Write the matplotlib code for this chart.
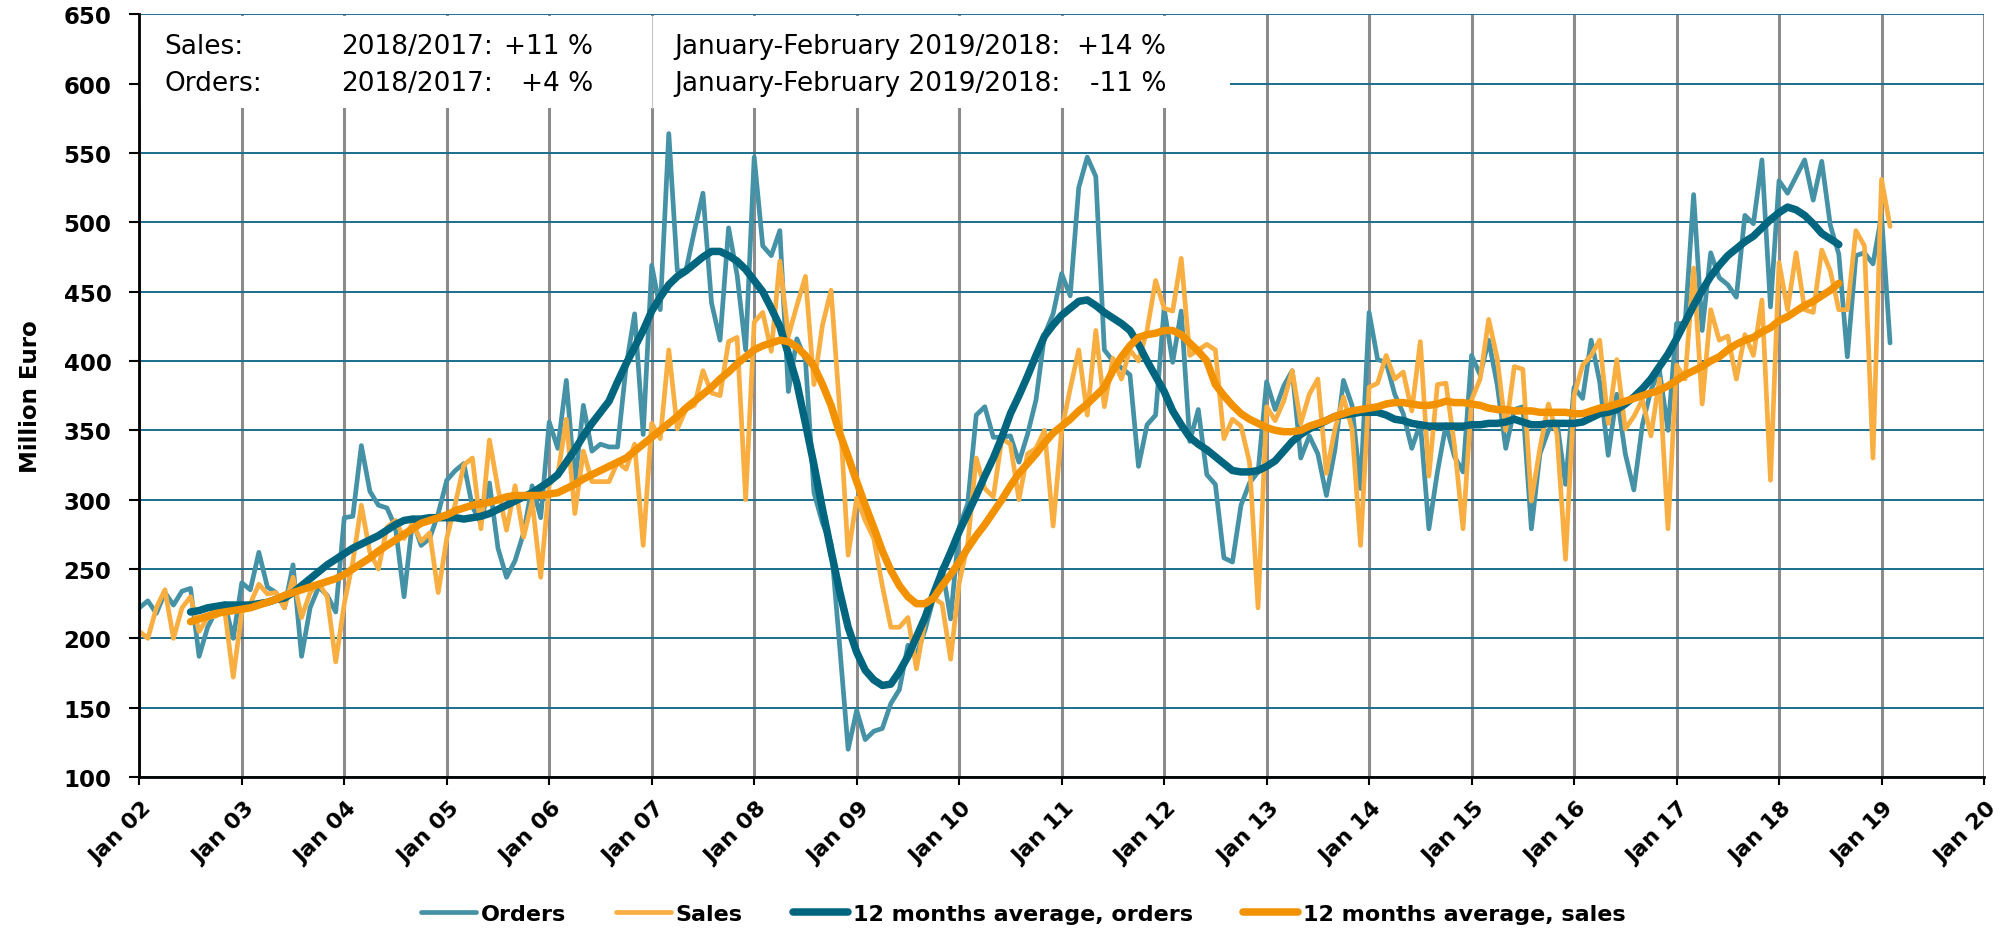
import matplotlib
matplotlib.use("Agg")
import matplotlib.pyplot as plt
import numpy as np
from matplotlib.patches import Rectangle
from matplotlib.transforms import ScaledTranslation

# ---------------- data (monthly, Jan 2002 .. Feb 2019) ----------------
tick_labels = ["Jan 02", "Jan 03", "Jan 04", "Jan 05", "Jan 06", "Jan 07", "Jan 08",
               "Jan 09", "Jan 10", "Jan 11", "Jan 12", "Jan 13", "Jan 14", "Jan 15",
               "Jan 16", "Jan 17", "Jan 18", "Jan 19", "Jan 20"]

orders = [
    222, 227, 218, 233, 224, 234, 236, 187, 208, 220, 225, 200,   # 2002
    240, 235, 262, 237, 233, 222, 253, 187, 222, 237, 231, 219,   # 2003
    287, 288, 339, 306, 296, 294, 280, 230, 285, 267, 272, 290,   # 2004
    314, 321, 326, 295, 283, 312, 265, 244, 256, 276, 310, 287,   # 2005
    356, 337, 386, 312, 368, 335, 340, 338, 338, 396, 434, 347,   # 2006
    469, 437, 564, 465, 465, 494, 521, 442, 415, 496, 462, 408,   # 2007
    547, 483, 476, 494, 378, 416, 401, 305, 283, 268, 195, 120,   # 2008
    148, 127, 133, 135, 153, 163, 195, 188, 206, 229, 251, 214,   # 2009
    280, 297, 361, 367, 345, 345, 346, 327, 347, 372, 419, 434,   # 2010
    463, 447, 525, 547, 533, 408, 400, 395, 390, 324, 354, 361,   # 2011
    438, 399, 436, 342, 365, 318, 311, 258, 255, 296, 312, 320,   # 2012
    385, 365, 382, 393, 330, 346, 333, 303, 336, 386, 368, 308,   # 2013
    435, 401, 399, 376, 362, 337, 355, 279, 320, 354, 331, 320,   # 2014
    404, 390, 415, 383, 337, 365, 367, 279, 333, 350, 356, 311,   # 2015
    381, 373, 415, 385, 332, 376, 333, 307, 354, 379, 393, 350,   # 2016
    427, 427, 520, 422, 478, 460, 455, 446, 505, 499, 545, 439,   # 2017
    530, 521, 533, 545, 516, 544, 498, 477, 403, 476, 478, 470,   # 2018
    505, 413,                                                     # 2019
]

sales = [
    205, 200, 222, 235, 200, 222, 230, 205, 215, 216, 220, 172,   # 2002
    219, 225, 239, 232, 233, 222, 244, 215, 233, 240, 230, 183,   # 2003
    225, 255, 296, 262, 250, 280, 285, 272, 283, 270, 276, 233,   # 2004
    272, 297, 325, 330, 279, 343, 308, 278, 310, 273, 299, 244,   # 2005
    311, 318, 358, 290, 335, 313, 313, 313, 327, 322, 340, 267,   # 2006
    355, 344, 408, 351, 365, 368, 393, 377, 375, 414, 417, 300,   # 2007
    428, 435, 407, 472, 418, 440, 461, 383, 426, 451, 366, 260,   # 2008
    301, 285, 272, 238, 208, 208, 215, 178, 213, 229, 225, 185,   # 2009
    240, 268, 330, 308, 302, 344, 340, 300, 333, 337, 350, 281,   # 2010
    350, 380, 408, 361, 422, 367, 402, 387, 408, 400, 422, 458,   # 2011
    438, 436, 474, 404, 408, 412, 408, 344, 358, 353, 327, 222,   # 2012
    367, 357, 371, 393, 355, 376, 387, 319, 351, 374, 351, 267,   # 2013
    381, 384, 404, 387, 392, 364, 414, 317, 383, 384, 339, 279,   # 2014
    372, 387, 430, 402, 350, 396, 394, 299, 337, 369, 347, 257,   # 2015
    375, 397, 404, 415, 355, 401, 351, 360, 372, 346, 387, 279,   # 2016
    397, 387, 467, 369, 437, 415, 418, 387, 419, 404, 444, 314,   # 2017
    471, 437, 478, 437, 435, 480, 465, 437, 437, 494, 483, 330,   # 2018
    531, 497,                                                     # 2019
]

# 12 months average (centred), Jul 2002 .. Aug 2018
ma_start = 6
ma_orders = [
    219, 220, 222, 223, 224, 224,
    224, 224, 225, 226, 228, 229, 233, 238, 243, 248, 253, 257,
    261, 265, 268, 271, 274, 278, 282, 285, 286, 286, 287, 287,
    287, 287, 286, 287, 288, 290, 293, 296, 299, 302, 305, 309,
    313, 318, 327, 336, 346, 355, 363, 371, 385, 398, 410, 422,
    436, 446, 455, 461, 465, 470, 475, 479, 479, 476, 472, 466,
    458, 450, 438, 425, 405, 384, 355, 325, 293, 263, 234, 208,
    190, 177, 170, 166, 167, 176, 187, 201, 215, 232, 248, 262,
    277, 290, 303, 317, 330, 345, 362, 375, 389, 404, 418, 426,
    433, 438, 443, 444, 440, 435, 431, 427, 422, 412, 400, 389,
    378, 364, 354, 345, 340, 336, 331, 326, 321, 320, 320, 321,
    324, 328, 335, 342, 347, 351, 354, 357, 360, 361, 362, 363,
    363, 363, 361, 358, 357, 355, 354, 353, 353, 353, 353, 353,
    354, 354, 355, 355, 356, 358, 356, 354, 354, 355, 355, 355,
    355, 356, 359, 362, 363, 365, 369, 374, 380, 387, 396, 405,
    416, 428, 440, 451, 461, 469, 476, 481, 486, 490, 496, 502,
    507, 511, 509, 505, 499, 492, 488, 484,
]
ma_sales = [
    212, 214, 216, 218, 219, 220,
    221, 222, 224, 226, 228, 231, 233, 235, 237, 239, 241, 243,
    246, 250, 254, 258, 263, 267, 271, 275, 279, 283, 285, 287,
    289, 292, 294, 296, 297, 298, 300, 302, 303, 303, 303, 303,
    304, 305, 308, 311, 315, 318, 321, 324, 327, 330, 335, 340,
    345, 350, 355, 360, 366, 371, 376, 381, 387, 392, 398, 403,
    408, 411, 413, 415, 414, 410, 404, 396, 383, 368, 348, 331,
    313, 296, 280, 263, 249, 238, 230, 225, 225, 229, 238, 246,
    255, 265, 274, 282, 291, 300, 310, 319, 326, 333, 341, 348,
    353, 358, 364, 369, 375, 381, 393, 403, 411, 417, 419, 420,
    422, 422, 419, 413, 407, 400, 383, 375, 368, 362, 358, 355,
    352, 350, 349, 349, 350, 353, 355, 357, 360, 362, 364, 365,
    366, 367, 369, 370, 370, 369, 368, 368, 369, 371, 370, 370,
    369, 368, 366, 365, 365, 364, 364, 364, 363, 363, 363, 363,
    362, 362, 364, 366, 367, 369, 371, 373, 375, 377, 379, 382,
    386, 390, 393, 396, 400, 403, 408, 412, 415, 417, 421, 424,
    429, 432, 436, 440, 443, 447, 451, 456,
]

series_names = ["Orders", "Sales", "12 months average, orders", "12 months average, sales"]

# ---------------- style ----------------
C_ORD = "#4591a6"
C_SAL = "#f9ae42"
C_MAO = "#00657f"
C_MAS = "#f39200"
GRID_H = "#1b6e8e"
GRID_V = "#8c8c8c"

W, H = 2003, 929
fig = plt.figure(figsize=(W / 100, H / 100), dpi=100)
fig.patch.set_facecolor("white")
ax = fig.add_axes([139.3 / W, 1 - 778 / H, (1984 - 139.3) / W, (778 - 15.3) / H])

x = np.arange(len(orders))
xm = np.arange(ma_start, ma_start + len(ma_orders))

kw = dict(solid_joinstyle="round", solid_capstyle="round")
ax.plot(x, orders, color=C_ORD, lw=3.4, label=series_names[0], zorder=3, **kw)
ax.plot(x, sales, color=C_SAL, lw=3.4, label=series_names[1], zorder=3.1, **kw)
ax.plot(xm, ma_orders, color=C_MAO, lw=5.4, label=series_names[2], zorder=3.2, **kw)
ax.plot(xm, ma_sales, color=C_MAS, lw=5.4, label=series_names[3], zorder=3.3, **kw)

ax.set_xlim(0, 216)
ax.set_ylim(100, 650)
ax.set_yticks(np.arange(100, 651, 50))
ax.set_xticks(np.arange(0, 217, 12))
ax.set_xticklabels(tick_labels)

ax.set_axisbelow(True)
ax.yaxis.grid(True, color=GRID_H, lw=1.4)
ax.xaxis.grid(True, color=GRID_V, lw=2.2)

for s in ["top", "right"]:
    ax.spines[s].set_visible(False)
for s in ["left", "bottom"]:
    ax.spines[s].set_color("black")
    ax.spines[s].set_linewidth(2.0)
    ax.spines[s].set_zorder(4)

ax.tick_params(axis="y", direction="out", length=7, width=1.5, pad=13,
               labelsize=16.5, colors="black")
ax.tick_params(axis="x", direction="out", length=6, width=1.5, pad=4,
               labelsize=16, colors="black")
for lbl in ax.get_yticklabels():
    lbl.set_fontweight("bold")
offset = ScaledTranslation(2 / 100, -7 / 100, fig.dpi_scale_trans)
for lbl in ax.get_xticklabels():
    lbl.set_fontweight("bold")
    lbl.set_rotation(45)
    lbl.set_ha("right")
    lbl.set_va("top")
    lbl.set_rotation_mode("anchor")
    lbl.set_transform(lbl.get_transform() + offset)

# white info box in the upper left
box_right = (1230 - 139.3) / ((1984 - 139.3) / 216)
ax.add_patch(Rectangle((0, 582.4), box_right, 648.6 - 582.4, facecolor="white",
                       edgecolor="none", zorder=1))
ax.plot([60, 60], [582.4, 648.6], color="#c8c8c8", lw=0.8, zorder=1.1)

def ftxt(px, py, s, ha="left"):
    fig.text(px / W, 1 - py / H, s, ha=ha, va="center", fontsize=19, color="black")

ftxt(164, 47.5, "Sales:")
ftxt(341, 47.5, "2018/2017:")
ftxt(593, 47.5, "+11 %", ha="right")
ftxt(674, 47.5, "January-February 2019/2018:")
ftxt(1166, 47.5, "+14 %", ha="right")
ftxt(164, 84, "Orders:")
ftxt(341, 84, "2018/2017:")
ftxt(593, 84, "+4 %", ha="right")
ftxt(674, 84, "January-February 2019/2018:")
ftxt(1166, 84, "-11 %", ha="right")

fig.text(31 / W, 1 - 397 / H, "Million Euro", rotation=90, ha="center", va="center",
         fontsize=16.5, fontweight="bold")

ax.legend(loc="center", bbox_to_anchor=(1023 / W, 1 - 915 / H),
          bbox_transform=fig.transFigure, ncol=4, frameon=False,
          prop={"weight": "bold", "size": 16}, handlelength=2.5,
          handletextpad=0.2, columnspacing=2.25)

fig.savefig("out.png", dpi=100, facecolor="white")
